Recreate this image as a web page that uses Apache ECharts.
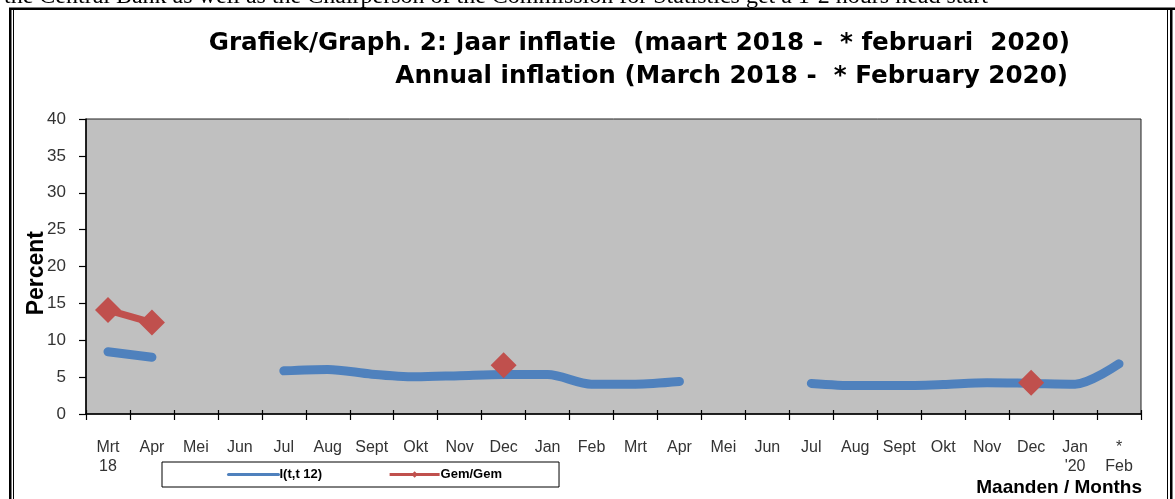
<!DOCTYPE html>
<html>
<head>
<meta charset="utf-8">
<script src="https://cdn.jsdelivr.net/npm/echarts@6/dist/echarts.min.js"></script>
<style>
html,body{margin:0;padding:0;background:#fff;}
#c{width:1175px;height:499px;}
</style>
</head>
<body>
<div id="c"></div>
<script>
var categories = ['Mrt\n18','Apr','Mei','Jun','Jul','Aug','Sept','Okt','Nov','Dec','Jan','Feb',
                  'Mrt','Apr','Mei','Jun','Jul','Aug','Sept','Okt','Nov','Dec',"Jan\n'20",'*\nFeb'];
var inflation = [8.45, 7.7, null, null, 5.85, 6.05, 5.4, 5.05, 5.2, 5.35, 5.35, 4.05,
                 4.05, 4.4, null, null, 4.15, 3.85, 3.85, 4.0, 4.25, 4.15, 4.05, 6.8];
var gemGem = [14.1, 12.4, null, null, null, null, null, null, null, 6.6, null, null,
              null, null, null, null, null, null, null, null, null, 4.25, null, null];
var yTicks = [0, 5, 10, 15, 20, 25, 30, 35, 40];
var seriesNames = ['I(t,t 12)', 'Gem/Gem'];

var chart = echarts.init(document.getElementById('c'), null, {renderer: 'canvas'});
var option = {
  animation: false,
  backgroundColor: '#ffffff',
  grid: {
    left: 86, right: 34, top: 119, bottom: 85,
    show: true, backgroundColor: '#c0c0c0', borderColor: '#222', borderWidth: 1
  },
  xAxis: [{
    type: 'category',
    data: categories,
    boundaryGap: true,
    axisLine: {lineStyle: {color: '#000', width: 1.5}},
    axisTick: {show: true, length: 6, lineStyle: {color: '#000', width: 1.2}},
    axisLabel: {interval: 0, margin: 24, fontFamily: 'Liberation Sans, Arial', fontSize: 16, color: '#333', lineHeight: 19},
    splitLine: {show: false}
  }, {
    type: 'category',
    data: categories,
    boundaryGap: true,
    position: 'bottom',
    axisLine: {show: false},
    axisTick: {show: true, inside: true, length: 4, lineStyle: {color: '#000', width: 1.2}},
    axisLabel: {show: false},
    splitLine: {show: false}
  }],
  yAxis: {
    type: 'value',
    min: yTicks[0], max: yTicks[yTicks.length - 1], interval: 5,
    axisLine: {show: true, lineStyle: {color: '#000', width: 1.5}},
    axisTick: {show: true, length: 7, lineStyle: {color: '#000', width: 1.2}},
    axisLabel: {margin: 20, fontFamily: 'Liberation Sans, Arial', fontSize: 17, color: '#333'},
    splitLine: {show: false}
  },
  legend: {
    left: 162, top: 462,
    orient: 'horizontal',
    data: [{name: seriesNames[0], itemStyle: {opacity: 0}}, {name: seriesNames[1]}],
    itemWidth: 50, itemHeight: 8, itemGap: 66,
    padding: [6, 57, 6, 65],
    borderColor: '#000', borderWidth: 1, backgroundColor: '#fff',
    textStyle: {fontFamily: 'Liberation Sans, Arial', fontSize: 13, fontWeight: 'bold', color: '#000', padding: [0,0,0,-4]},
    lineStyle: {width: 3},
    itemStyle: {borderWidth: 0}
  },
  series: [
    {
      name: seriesNames[0], type: 'line', data: inflation,
      symbol: 'none', smooth: 0.3, connectNulls: false,
      lineStyle: {color: '#4F81BD', width: 9, cap: 'round', join: 'round'},
      itemStyle: {color: '#4F81BD'}, z: 2
    },
    {
      name: seriesNames[1], type: 'line', data: gemGem,
      symbol: 'diamond', symbolSize: 26, showSymbol: true, connectNulls: false,
      lineStyle: {color: '#C0504D', width: 7},
      itemStyle: {color: '#C0504D'}, z: 3
    }
  ],
  graphic: [
    {type: 'text', left: 4, top: -15, style: {text: 'the Central Bank as well as the Chairperson of the Commission for Statistics get a 1-2 hours head start', font: '24px "Liberation Serif", "Times New Roman", serif', fill: '#000'}},
    {type: 'rect', shape: {x: 9, y: 7.5, width: 1170, height: 2.5}, style: {fill: '#000'}},
    {type: 'rect', shape: {x: 9, y: 8, width: 2.5, height: 495}, style: {fill: '#000'}},
    {type: 'rect', shape: {x: 13, y: 10, width: 1, height: 495}, style: {fill: '#000'}},
    {type: 'rect', shape: {x: 1167, y: 10, width: 1, height: 495}, style: {fill: '#000'}},
    {type: 'rect', shape: {x: 1170, y: 8, width: 2.5, height: 495}, style: {fill: '#000'}},
    {type: 'text', right: 105, top: 31, style: {text: 'Grafiek/Graph. 2: Jaar inflatie  (maart 2018 -  * februari  2020)', font: 'bold 24.6px "DejaVu Sans", sans-serif', fill: '#000'}},
    {type: 'text', right: 107, top: 64, style: {text: 'Annual inflation (March 2018 -  * February 2020)', font: 'bold 24.6px "DejaVu Sans", sans-serif', fill: '#000'}},
    {type: 'text', left: 25, top: 231, rotation: Math.PI / 2, style: {text: 'Percent', font: 'bold 23px "Liberation Sans", Arial, sans-serif', fill: '#000'}},
    {type: 'text', right: 33, top: 478, style: {text: 'Maanden / Months', font: 'bold 19px "Liberation Sans", Arial, sans-serif', fill: '#000'}}
  ]
};
chart.setOption(option);
</script>
</body>
</html>
